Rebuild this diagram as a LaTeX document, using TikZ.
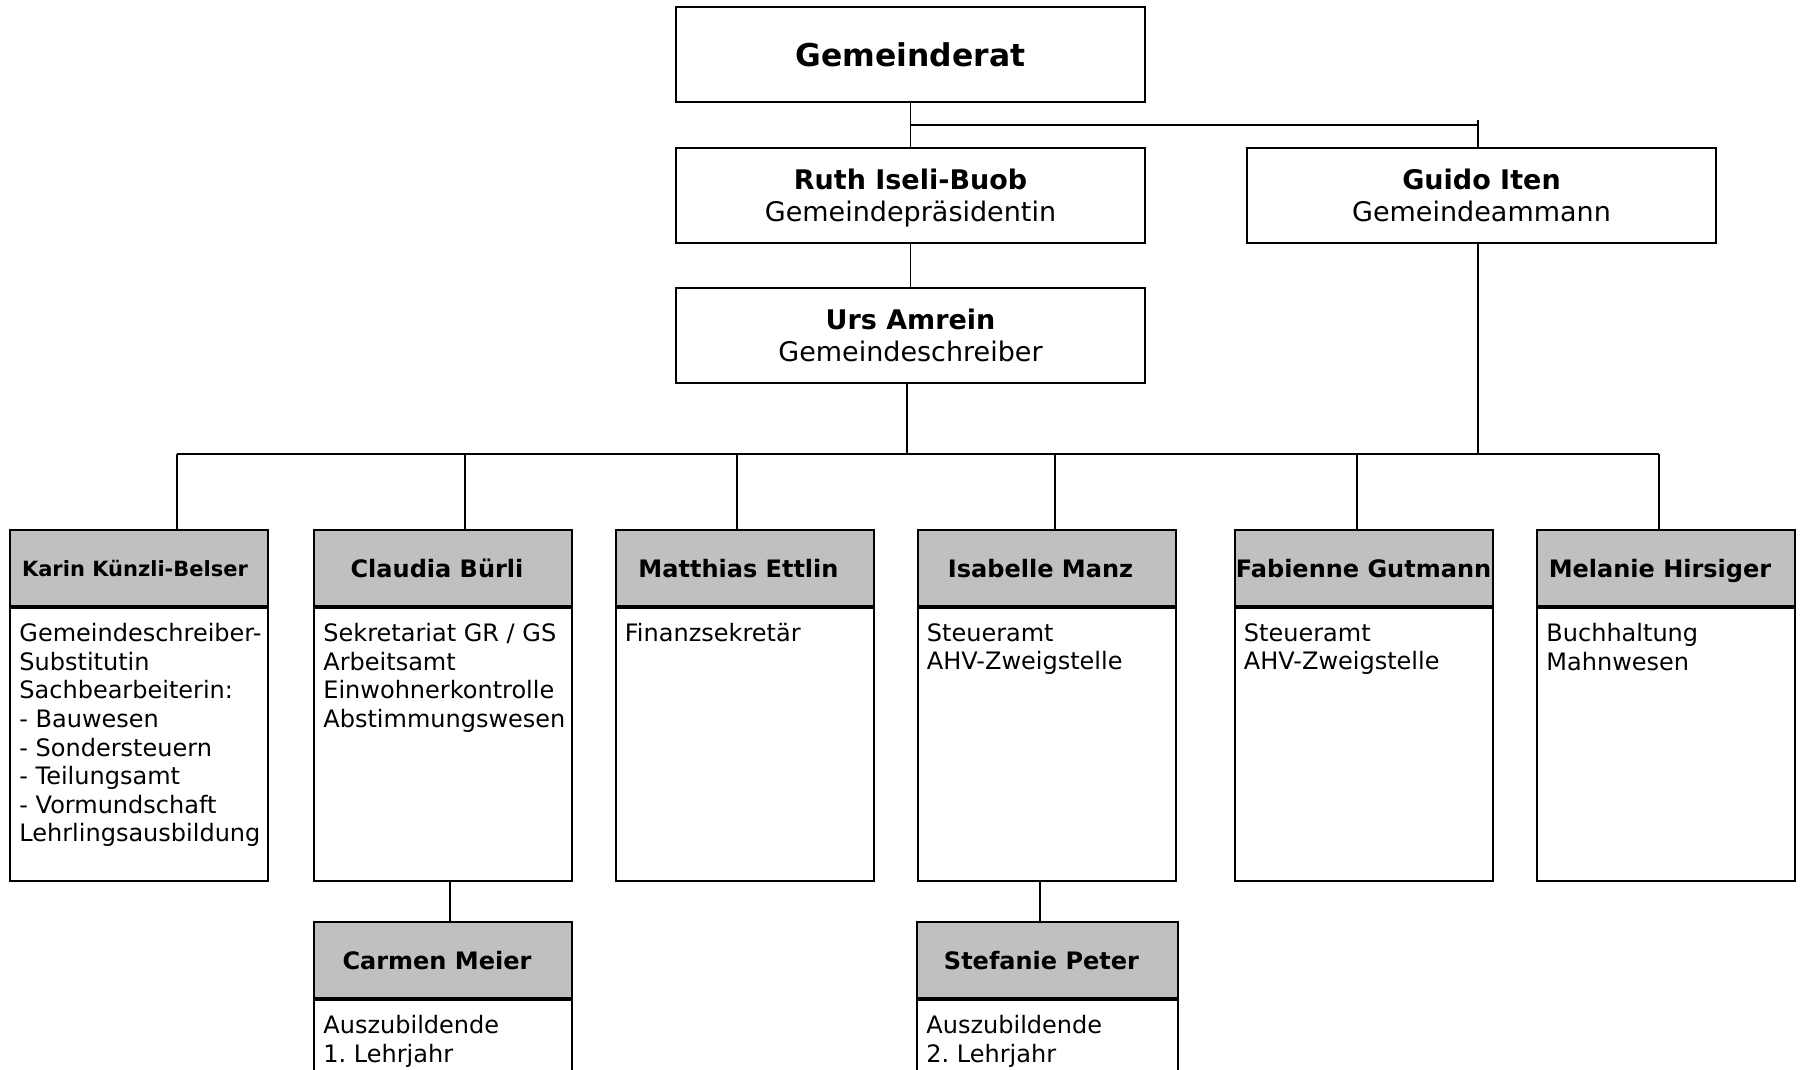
\documentclass[tikz,border=0pt]{standalone}
\usepackage{fontspec}
\setmainfont{DejaVu Sans}
\usetikzlibrary{calc}
\definecolor{headgray}{HTML}{C0C0C0}
\frenchspacing

\begin{document}
\begin{tikzpicture}[x=0.5pt, y=-0.5pt,
	box/.style={draw, line width=1pt, minimum width=234.5pt, minimum height=47.5pt, align=center, inner sep=0pt, text depth=0pt, font=\fontsize{13.5}{16}\selectfont},
	head/.style={draw, line width=1pt, fill=headgray, minimum width=129pt, minimum height=38pt, inner sep=0pt, text depth=0pt, font=\fontsize{12}{14.3}\selectfont\bfseries},
	lefthead/.style={head, execute at end node={\hspace{#1}}},
	body/.style={draw, line width=1pt, minimum width=129pt, minimum height=136.5pt, inner sep=0pt, anchor=north},
	lines/.style={anchor=north west, align=left, inner sep=0pt, font=\fontsize{12}{14.3}\selectfont},
	link/.style={line width=0.8pt}]
	\useasboundingbox (0,0) rectangle (1803,1070);

	\node at (910.5,55) [box, font=\fontsize{15.7}{18}\selectfont\bfseries] (rat) {Gemeinderat};
	\node at (910.5,195) [box] (ruth) {\textbf{Ruth Iseli-Buob}\\Gemeindepräsidentin};
	\node at (1481.5,195) [box] (guido) {\textbf{Guido Iten}\\Gemeindeammann};
	\node at (910.5,335.5) [box] (urs) {\textbf{Urs Amrein}\\Gemeindeschreiber};

	\node at (139,568) [lefthead=4pt, font=\fontsize{10.5}{12}\selectfont\bfseries] (kk) {Karin Künzli-Belser};
	\node at (443,568) [lefthead=6pt] (cb) {Claudia Bürli};
	\node at (744.5,568) [lefthead=6pt] (me) {Matthias Ettlin};
	\node at (1046.5,568) [lefthead=6pt] (im) {Isabelle Manz};
	\node at (1363.5,568) [head] (fg) {Fabienne Gutmann};
	\node at (1666,568) [lefthead=6pt] (mh) {Melanie Hirsiger};
	\node at (443,960) [lefthead=6pt] (cm) {Carmen Meier};
	\node at (1047.5,960) [lefthead=6pt, minimum width=130.5pt] (sp) {Stefanie Peter};

	\node at (kk.south) [body] (kkb) {};
	\node at (cb.south) [body] (cbb) {};
	\node at (me.south) [body] (meb) {};
	\node at (im.south) [body] (imb) {};
	\node at (fg.south) [body] (fgb) {};
	\node at (mh.south) [body] (mhb) {};
	\node at (cm.south) [body, minimum height=42pt] (cmb) {};
	\node at (sp.south) [body, minimum height=42pt, minimum width=130.5pt] (spb) {};

	\node at ($(kkb.north west)+(10,16)$) [lines] (kkt) {Gemeindeschreiber-\\Substitutin\\Sachbearbeiterin:\\- Bauwesen\\- Sondersteuern\\- Teilungsamt\\- Vormundschaft\\Lehrlingsausbildung};
	\node at ($(cbb.north west)+(10,16)$) [lines] (cbt) {Sekretariat GR / GS\\Arbeitsamt\\Einwohnerkontrolle\\Abstimmungswesen};
	\node at ($(meb.north west)+(10,16)$) [lines] (met) {Finanzsekretär};
	\node at ($(imb.north west)+(10,16)$) [lines] (imt) {Steueramt\\AHV-Zweigstelle};
	\node at ($(fgb.north west)+(10,16)$) [lines] (fgt) {Steueramt\\AHV-Zweigstelle};
	\node at ($(mhb.north west)+(10,16)$) [lines] (mht) {Buchhaltung\\Mahnwesen};
	\node at ($(cmb.north west)+(10,16)$) [lines] (cmt) {Auszubildende\\1. Lehrjahr};
	\node at ($(spb.north west)+(10,16)$) [lines] (spt) {Auszubildende\\2. Lehrjahr};

	\coordinate (split) at (910.5,125);
	\coordinate (bus) at (907,454);

	\draw [link] (rat) -- (ruth);
	\draw [link] (ruth) -- (urs);
	\draw [link] (split) -- ($(split -| guido.north)+(-3.5,0)$);
	\draw [link] ($(guido.north)+(-3.5,0)$) -- ++(0,-26);
	\draw [link] ($(urs.south)+(-3.5,0)$) -- (bus);
	\draw [link] ($(guido.south)+(-3.5,0)$) -- ($(guido.south |- bus)+(-3.5,0)$);
	\draw [link] ($(kk.north |- bus)+(38,0)$) -- ($(mh.north |- bus)+(-7,0)$);
	\foreach \n/\dx in {kk/38, cb/22, me/-7.5, im/8.5, fg/-6.5, mh/-7}
		\draw [link] ($(\n.north |- bus)+(\dx,0)$) -- ($(\n.north)+(\dx,0)$);
	\draw [link] ($(cbb.south)+(7,0)$) -- ($(cm.north)+(7,0)$);
	\draw [link] ($(imb.south)+(-6.5,0)$) -- ($(sp.north)+(-7.5,0)$);
\end{tikzpicture}
\end{document}
